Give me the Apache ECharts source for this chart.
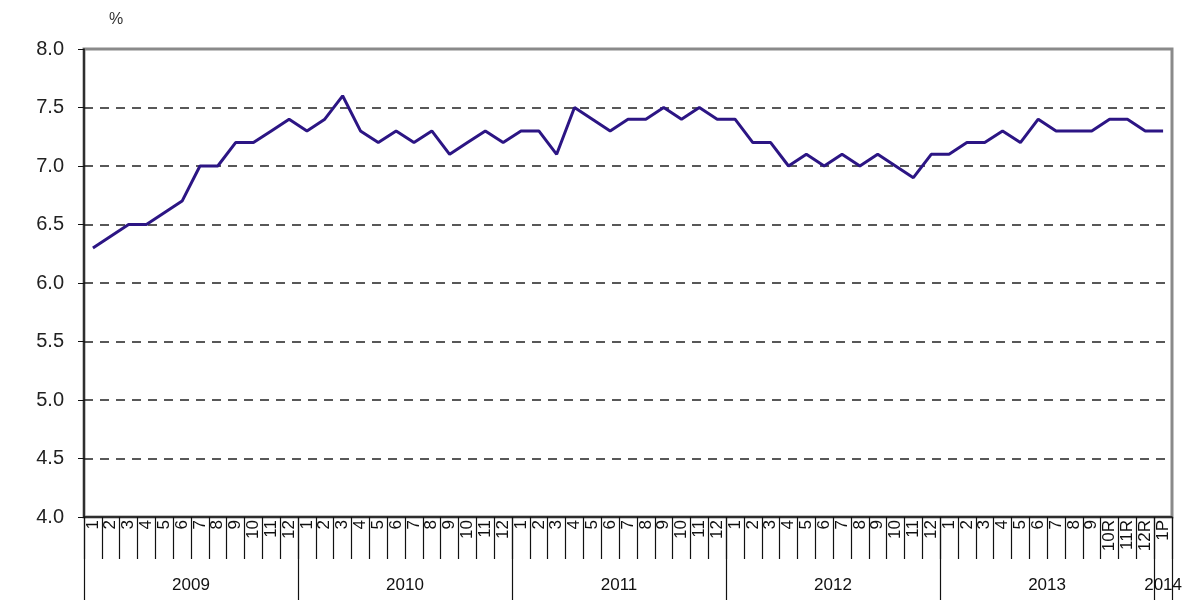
<!DOCTYPE html>
<html>
<head>
<meta charset="utf-8">
<script src="https://cdn.jsdelivr.net/npm/echarts@6/dist/echarts.min.js"></script>
<style>html,body{margin:0;padding:0;background:#fff;}#c{width:1186px;height:600px;}</style>
</head>
<body>
<div id="c"></div>
<script>
const monthLabels = [
  '1','2','3','4','5','6','7','8','9','10','11','12',
  '1','2','3','4','5','6','7','8','9','10','11','12',
  '1','2','3','4','5','6','7','8','9','10','11','12',
  '1','2','3','4','5','6','7','8','9','10','11','12',
  '1','2','3','4','5','6','7','8','9','10R','11R','12R',
  '1P'
];
const yearOfPoint = [
  '2009','2009','2009','2009','2009','2009','2009','2009','2009','2009','2009','2009',
  '2010','2010','2010','2010','2010','2010','2010','2010','2010','2010','2010','2010',
  '2011','2011','2011','2011','2011','2011','2011','2011','2011','2011','2011','2011',
  '2012','2012','2012','2012','2012','2012','2012','2012','2012','2012','2012','2012',
  '2013','2013','2013','2013','2013','2013','2013','2013','2013','2013','2013','2013',
  '2014'
];
const rateValues = [
  6.3,6.4,6.5,6.5,6.6,6.7,7.0,7.0,7.2,7.2,7.3,7.4,
  7.3,7.4,7.6,7.3,7.2,7.3,7.2,7.3,7.1,7.2,7.3,7.2,
  7.3,7.3,7.1,7.5,7.4,7.3,7.4,7.4,7.5,7.4,7.5,7.4,
  7.4,7.2,7.2,7.0,7.1,7.0,7.1,7.0,7.1,7.0,6.9,7.1,
  7.1,7.2,7.2,7.3,7.2,7.4,7.3,7.3,7.3,7.4,7.4,7.3,
  7.3
];
const yTicks = {min: 4.0, max: 8.0, interval: 0.5};

const chart = echarts.init(document.getElementById('c'), null, {renderer: 'canvas'});
const font = 'Liberation Sans, Arial, sans-serif';
chart.setOption({
  animation: false,
  backgroundColor: '#ffffff',
  grid: {left: 84, right: 14, top: 49, bottom: 83, show: true, borderColor: '#8a8a8a', borderWidth: 3, backgroundColor: 'transparent'},
  graphic: [{type: 'text', left: 109, top: 12, style: {text: '%', font: '16px ' + font, fill: '#333'}}],
  xAxis: [{
    type: 'category',
    data: monthLabels,
    boundaryGap: true,
    axisLine: {show: true, lineStyle: {color: '#111', width: 1.5}},
    axisTick: {show: true, length: 42, interval: 0, lineStyle: {color: '#111', width: 1.2}},
    axisLabel: {interval: 0, rotate: 90, margin: 3, fontSize: 17, fontFamily: font, color: '#111'},
    splitLine: {show: false}
  }, {
    type: 'category',
    data: yearOfPoint,
    position: 'bottom',
    boundaryGap: true,
    axisLine: {show: false},
    axisTick: {show: true, length: 83, interval: function (i) { return i % 12 === 0; }, lineStyle: {color: '#111', width: 1.2}},
    axisLabel: {
      interval: function (i) { return i % 12 === 6 || i === 60; },
      margin: 60,
      formatter: function (v, i) { return i === 60 ? '{e|' + v + '}' : '{m|' + v + '}'; },
      rich: {
        m: {fontSize: 17, fontFamily: font, color: '#111', padding: [0, 18, 0, 0]},
        e: {fontSize: 17, fontFamily: font, color: '#111'}
      }
    },
    splitLine: {show: false}
  }],
  yAxis: {
    type: 'value',
    min: yTicks.min, max: yTicks.max, interval: yTicks.interval,
    axisLine: {show: true, lineStyle: {color: '#111', width: 1.5}},
    axisTick: {show: true, length: 6, lineStyle: {color: '#111'}},
    axisLabel: {formatter: function (v) { return v.toFixed(1); }, fontSize: 20, fontFamily: font, color: '#222', margin: 20},
    splitLine: {show: true, showMaxLine: false, showMinLine: false, lineStyle: {color: '#222', type: [9, 7], width: 1.5}}
  },
  series: [{
    type: 'line',
    data: rateValues,
    xAxisIndex: 0,
    symbol: 'none',
    lineStyle: {color: '#2c1584', width: 3},
    z: 5
  }]
});
</script>
</body>
</html>
